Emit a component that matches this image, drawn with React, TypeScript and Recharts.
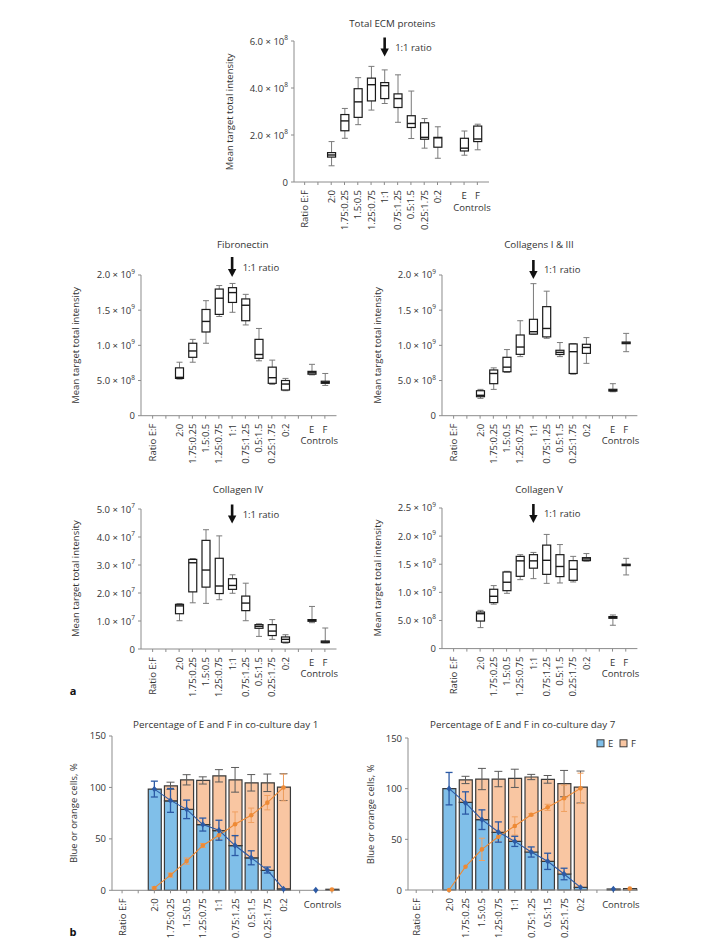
import React from "react";
import { ComposedChart, Bar, Line, XAxis, YAxis, ErrorBar } from "recharts";

const FONT = "'Open Sans', 'Noto Sans', sans-serif";
const INK = "#333333";
const AXIS = "#8c8c8c";
const FS = 9.5;

// x categories shared by every panel
const categories = ["Ratio E:F", "", "2:0", "1.75:0.25", "1.5:0.5", "1.25:0.75", "1:1", "0.75:1.25", "0.5:1.5", "0.25:1.75", "0:2", "", "E", "F"];
const ratios = ["2:0", "1.75:0.25", "1.5:0.5", "1.25:0.75", "1:1", "0.75:1.25", "0.5:1.5", "0.25:1.75", "0:2"];
const boxGroups = [...ratios, "E", "F"];

// Total ECM proteins (x 10^8)
const ecmMin = [0.69, 1.86, 2.44, 3.06, 3.34, 2.54, 1.85, 1.44, 1.01, 1.14, 1.37];
const ecmQ1 = [1.06, 2.18, 2.75, 3.45, 3.55, 3.17, 2.32, 1.82, 1.48, 1.32, 1.72];
const ecmMed = [1.15, 2.6, 3.41, 4.14, 4.1, 3.55, 2.49, 1.9, 1.88, 1.44, 1.83];
const ecmQ3 = [1.25, 2.87, 3.97, 4.42, 4.23, 3.75, 2.82, 2.52, 1.9, 1.86, 2.38];
const ecmMax = [1.72, 3.13, 4.44, 4.92, 4.77, 4.56, 3.87, 2.7, 2.35, 2.17, 2.46];

// Fibronectin (x 10^9)
const fnMin = [0.52, 0.76, 1.03, 1.41, 1.47, 1.29, 0.78, 0.445, 0.355, 0.58, 0.43];
const fnQ1 = [0.53, 0.83, 1.19, 1.44, 1.61, 1.35, 0.815, 0.46, 0.365, 0.59, 0.46];
const fnMed = [0.545, 0.92, 1.34, 1.67, 1.75, 1.57, 0.87, 0.54, 0.45, 0.61, 0.475];
const fnQ3 = [0.68, 1.03, 1.51, 1.8, 1.82, 1.66, 1.085, 0.69, 0.5, 0.63, 0.49];
const fnMax = [0.76, 1.085, 1.635, 1.85, 1.88, 1.725, 1.24, 0.79, 0.53, 0.73, 0.6];

// Collagens I & III (x 10^9)
const c13Min = [0.246, 0.374, 0.616, 0.84, 1.156, 1.1, 0.84, 0.59, 0.744, 0.34, 0.91];
const c13Q1 = [0.27, 0.455, 0.625, 0.872, 1.16, 1.12, 0.87, 0.6, 0.886, 0.35, 1.024];
const c13Med = [0.29, 0.6, 0.69, 0.976, 1.194, 1.24, 0.9, 0.91, 0.97, 0.36, 1.035];
const c13Q3 = [0.355, 0.65, 0.83, 1.147, 1.37, 1.55, 0.93, 1.02, 1.015, 0.375, 1.047];
const c13Max = [0.374, 0.68, 0.94, 1.35, 1.877, 1.77, 1.04, 1.025, 1.11, 0.455, 1.17];

// Collagen IV (x 10^7)
const c4Min = [1.01, 1.65, 1.63, 1.76, 1.99, 1.01, 0.45, 0.345, 0.21, 0.94, 0.22];
const c4Q1 = [1.26, 2.04, 2.21, 1.98, 2.13, 1.37, 0.74, 0.48, 0.24, 0.99, 0.226];
const c4Med = [1.54, 3.08, 2.82, 2.25, 2.27, 1.64, 0.81, 0.64, 0.345, 1.02, 0.255];
const c4Q3 = [1.595, 3.2, 3.88, 3.24, 2.51, 1.89, 0.87, 0.87, 0.43, 1.05, 0.286];
const c4Max = [1.62, 3.23, 4.26, 4.04, 2.65, 2.35, 0.9, 1.05, 0.51, 1.52, 0.75];

// Collagen V (x 10^9)
const c5Min = [0.373, 0.79, 0.983, 1.226, 1.244, 1.16, 1.167, 1.185, 1.555, 0.415, 1.31];
const c5Q1 = [0.49, 0.818, 1.03, 1.285, 1.43, 1.32, 1.28, 1.214, 1.564, 0.539, 1.475];
const c5Med = [0.62, 0.93, 1.18, 1.56, 1.56, 1.57, 1.46, 1.41, 1.594, 0.555, 1.487];
const c5Q3 = [0.65, 1.055, 1.362, 1.64, 1.67, 1.84, 1.67, 1.564, 1.617, 0.569, 1.5];
const c5Max = [0.68, 1.12, 1.374, 1.67, 1.71, 2.03, 1.85, 1.64, 1.69, 0.598, 1.605];

// co-culture day 1 (%)
const d1EBar = [98.4, 87, 78.7, 63.9, 58, 43.5, 31.6, 19.4, 1.3];
const d1FBar = [0, 14.6, 28.7, 42.9, 53.3, 63.9, 72.9, 85.1, 99];
const d1TotErr = [null, 3.5, 5, 3.5, 6, 12, 8, 8.5, 13];
const d1ELine = [98.4, 87.4, 78.7, 63.9, 58.4, 43.5, 31.6, 19.7, 1.3];
const d1EErr = [7.7, 11.6, 9, 6.3, 9.7, 9.7, 6.8, 2.9, 0];
const d1FLine = [2.3, 14.8, 28.4, 43.5, 53.5, 64.2, 72.9, 85.2, 100];
const d1FErr = [1, 2, 3, 2, 4, 12, 7, 7, 13];
const d1CtrlPoint = [0.3, 0.8]; // E, F
const d1CtrlBar = [0, 1.0];

// co-culture day 7 (%)
const d7EBar = [100, 86.5, 69.4, 56.9, 48, 37.5, 28.3, 15.8, 2.6];
const d7FBar = [0, 22.1, 40.1, 52.6, 62.2, 74, 80.9, 89.2, 99];
const d7TotErr = [null, 3.6, 10.5, 7.6, 9, 2.6, 3.8, 13, 15.8];
const d7ELine = [100, 85.9, 69.4, 57.2, 48, 37.5, 28.3, 15.8, 2.6];
const d7EErr = [16, 11, 9.7, 10, 5, 5, 8, 5.7, 0];
const d7FLine = [0, 23, 40.1, 52.6, 63.2, 74.3, 81.6, 90.5, 100.3];
const d7FErr = [0, 0, 11, 5, 9, 1, 3, 13, 15];
const d7CtrlPoint = [1, 1.5];
const d7CtrlBar = [1, 1.5];

function boxRows(mn: number[], q1: number[], md: number[], q3: number[], mx: number[]) {
  return categories.map((cat, i) => {
    const k = i >= 2 ? boxGroups.indexOf(cat) : -1;
    if (k < 0) return { cat };
    return { cat, min: mn[k], q1: q1[k], med: md[k], q3: q3[k], max: mx[k] };
  });
}

function cultureRows(eBar: number[], fBar: number[], totErr: (number | null)[], eLine: number[], eErr: number[],
  fLine: number[], fErr: number[], ctrlPoint: number[], ctrlBar: number[]) {
  return categories.map((cat, i) => {
    const k = ratios.indexOf(cat);
    if (k >= 0) {
      return {
        cat, eBar: eBar[k], fBar: fBar[k],
        tot: totErr[k] == null ? undefined : eBar[k] + fBar[k], totErr: totErr[k] ?? undefined,
        eLine: eLine[k], eErr: eErr[k], fLine: fLine[k], fErr: fErr[k],
      };
    }
    if (i === 12) return { cat, eBar: ctrlBar[0], eLine: ctrlPoint[0] };
    if (i === 13) return { cat, fBar: ctrlBar[1], fLine: ctrlPoint[1] };
    return { cat };
  });
}

const boxPanels = [
  { key: "ecm", title: "Total ECM proteins", exp: 8, yMax: 6, ticks: [0, 2, 4, 6], rows: boxRows(ecmMin, ecmQ1, ecmMed, ecmQ3, ecmMax),
    axisX: 294.3, top: 41.3, bottom: 182.3, plotW: 195, padL: 4, padR: 5, titleX: 392.3, titleY: 23.3, arrowTop: 37.5, arrowTip: 56.5 },
  { key: "fn", title: "Fibronectin", exp: 9, yMax: 2, ticks: [0, 0.5, 1, 1.5, 2], rows: boxRows(fnMin, fnQ1, fnMed, fnQ3, fnMax),
    axisX: 141, top: 275, bottom: 415.7, plotW: 195.5, padL: 5, padR: 5, titleX: 242.7, titleY: 244, arrowTop: 257, arrowTip: 277 },
  { key: "c13", title: "Collagens I & III", exp: 9, yMax: 2, ticks: [0, 0.5, 1, 1.5, 2], rows: boxRows(c13Min, c13Q1, c13Med, c13Q3, c13Max),
    axisX: 442.3, top: 275, bottom: 415.7, plotW: 195.4, padL: 5, padR: 5, titleX: 539, titleY: 244, arrowTop: 260, arrowTip: 279 },
  { key: "c4", title: "Collagen IV", exp: 7, yMax: 5, ticks: [0, 1, 2, 3, 4, 5], rows: boxRows(c4Min, c4Q1, c4Med, c4Q3, c4Max),
    axisX: 141, top: 508.7, bottom: 648.7, plotW: 195.5, padL: 5, padR: 5, titleX: 238, titleY: 489, arrowTop: 504.5, arrowTip: 523.5 },
  { key: "c5", title: "Collagen V", exp: 9, yMax: 2.5, ticks: [0, 0.5, 1, 1.5, 2, 2.5], rows: boxRows(c5Min, c5Q1, c5Med, c5Q3, c5Max),
    axisX: 442.3, top: 507.7, bottom: 648.3, plotW: 195.4, padL: 5, padR: 5, titleX: 539, titleY: 489, arrowTop: 504, arrowTip: 523 },
];

const culturePanels = [
  { key: "d1", title: "Percentage of E and F in co-culture day 1",
    rows: cultureRows(d1EBar, d1FBar, d1TotErr, d1ELine, d1EErr, d1FLine, d1FErr, d1CtrlPoint, d1CtrlBar),
    axisX: 111.7, top: 736, bottom: 890.3, plotW: 228, padL: 2, padR: 0, titleX: 225.7, titleY: 724, legend: false },
  { key: "d7", title: "Percentage of E and F in co-culture day 7",
    rows: cultureRows(d7EBar, d7FBar, d7TotErr, d7ELine, d7EErr, d7FLine, d7FErr, d7CtrlPoint, d7CtrlBar),
    axisX: 408.3, top: 738.3, bottom: 890.3, plotW: 230, padL: 0, padR: 0, titleX: 522.7, titleY: 724, legend: true },
];

const YW = 80, MT = 8, XH = 60, MR = 4;

function SciTick(props: any) {
  const { x, y, payload, exp } = props;
  const v = payload.value as number;
  const common = { fontFamily: FONT, fontSize: FS, fill: INK };
  if (v === 0) {
    return <text x={x} y={y} textAnchor="end" dominantBaseline="central" {...common}>0</text>;
  }
  const small = v < 1;
  const mant = small ? v * 10 : v;
  const e = small ? exp - 1 : exp;
  return (
    <text x={x} y={y} textAnchor="end" dominantBaseline="central" {...common}>
      {`${mant.toFixed(1)} \u00d7 10`}
      <tspan fontSize={6.5} dy={-4}>{e}</tspan>
    </text>
  );
}

function PlainTick(props: any) {
  const { x, y, payload } = props;
  return (
    <text x={x} y={y} textAnchor="end" dominantBaseline="central" fontFamily={FONT} fontSize={FS} fill={INK}>
      {payload.value}
    </text>
  );
}

function CatTick(props: any) {
  const { x, y, payload, showEF } = props;
  const label = payload.value as string;
  if (!label) return <g />;
  if (label === "E" || label === "F") {
    if (!showEF) return <g />;
    return (
      <text x={x} y={y + 8.5} textAnchor="middle" dominantBaseline="central" fontFamily={FONT} fontSize={FS} fill={INK}>
        {label}
      </text>
    );
  }
  const ty = y + 3;
  return (
    <text x={x} y={ty} transform={`rotate(-90 ${x} ${ty})`} textAnchor="end" dominantBaseline="central"
      fontFamily={FONT} fontSize={FS} fill={INK}>
      {label}
    </text>
  );
}

function BoxShape(props: any) {
  const { x, y, width, height, payload } = props;
  if (!payload || payload.min == null || height == null || isNaN(y)) return <g />;
  const top = Math.min(y, y + height);
  const bot = Math.max(y, y + height);
  const ppu = (bot - top) / (payload.max - payload.min);
  const py = (v: number) => bot - (v - payload.min) * ppu;
  const cx = x + width / 2;
  const half = width / 2;
  const capHalf = 3;
  const yQ1 = py(payload.q1), yQ3 = py(payload.q3), yMed = py(payload.med);
  return (
    <g>
      <line x1={cx} x2={cx} y1={top} y2={yQ3} stroke="#7a7a7a" strokeWidth={1} />
      <line x1={cx} x2={cx} y1={yQ1} y2={bot} stroke="#7a7a7a" strokeWidth={1} />
      <line x1={cx - capHalf} x2={cx + capHalf} y1={top} y2={top} stroke="#7a7a7a" strokeWidth={1} />
      <line x1={cx - capHalf} x2={cx + capHalf} y1={bot} y2={bot} stroke="#7a7a7a" strokeWidth={1} />
      <rect x={cx - half} y={yQ3} width={width} height={Math.max(yQ1 - yQ3, 0.5)} fill="#ffffff" stroke="#1a1a1a" strokeWidth={1.2} />
      <line x1={cx - half} x2={cx + half} y1={yMed} y2={yMed} stroke="#1a1a1a" strokeWidth={1.4} />
    </g>
  );
}

function BoxPanel({ p }: { p: any }) {
  const h = p.bottom - p.top;
  return (
    <div style={{ position: "absolute", left: p.axisX - YW, top: p.top - MT }}>
      <ComposedChart width={YW + p.plotW + MR} height={MT + h + XH} data={p.rows} margin={{ top: MT, right: MR, bottom: 0, left: 0 }}>
        <XAxis dataKey="cat" interval={0} height={XH} tickSize={3} tickMargin={2}
          axisLine={{ stroke: AXIS }} tickLine={{ stroke: AXIS }} padding={{ left: p.padL, right: p.padR }}
          tick={(t: any) => <CatTick {...t} showEF />} />
        <YAxis type="number" domain={[0, p.yMax]} ticks={p.ticks} interval={0} width={YW} tickSize={3} tickMargin={3}
          axisLine={{ stroke: AXIS }} tickLine={{ stroke: AXIS }} tick={(t: any) => <SciTick {...t} exp={p.exp} />} />
        <Bar dataKey={(d: any) => (d.min == null ? null : [d.min, d.max])} barSize={8} shape={<BoxShape />} isAnimationActive={false} />
      </ComposedChart>
    </div>
  );
}

function Diamond(props: any) {
  const { cx, cy, index } = props;
  if (cx == null || cy == null) return <g key={`d-${index}`} />;
  return <path key={`d-${index}`} d={`M${cx},${cy - 3.2}L${cx + 2.7},${cy}L${cx},${cy + 3.2}L${cx - 2.7},${cy}Z`} fill="#2c5aa5" />;
}

function Circle(props: any) {
  const { cx, cy, index } = props;
  if (cx == null || cy == null) return <g key={`c-${index}`} />;
  return <circle key={`c-${index}`} cx={cx} cy={cy} r={2.3} fill="#ee8a35" />;
}

function CulturePanel({ p }: { p: any }) {
  const h = p.bottom - p.top;
  return (
    <div style={{ position: "absolute", left: p.axisX - YW, top: p.top - MT }}>
      <ComposedChart width={YW + p.plotW + MR} height={MT + h + XH} data={p.rows} margin={{ top: MT, right: MR, bottom: 0, left: 0 }}>
        <XAxis dataKey="cat" interval={0} height={XH} tickSize={3} tickMargin={2}
          axisLine={{ stroke: AXIS }} tickLine={{ stroke: AXIS }} padding={{ left: p.padL, right: p.padR }}
          tick={(t: any) => <CatTick {...t} showEF={false} />} />
        <YAxis type="number" domain={[0, 150]} ticks={[0, 50, 100, 150]} interval={0} width={YW} tickSize={3} tickMargin={3}
          axisLine={{ stroke: AXIS }} tickLine={{ stroke: AXIS }} tick={(t: any) => <PlainTick {...t} />} />
        <Bar dataKey="eBar" stackId="s" barSize={13} fill="#80bfe9" stroke="#3a3a3a" strokeWidth={1.2} isAnimationActive={false} />
        <Bar dataKey="fBar" stackId="s" barSize={13} fill="#f9c6a2" stroke="#3a3a3a" strokeWidth={1.2} isAnimationActive={false} />
        <Line dataKey="tot" stroke="none" dot={false} activeDot={false} isAnimationActive={false}>
          <ErrorBar dataKey="totErr" width={4} stroke="#5a5a5a" strokeWidth={1} />
        </Line>
        <Line dataKey="fLine" stroke="#ee8a35" strokeWidth={1.1} dot={<Circle />} activeDot={false} isAnimationActive={false}>
          <ErrorBar dataKey="fErr" width={3} stroke="#f0a060" strokeWidth={1} />
        </Line>
        <Line dataKey="eLine" stroke="#2c5aa5" strokeWidth={1.1} dot={<Diamond />} activeDot={false} isAnimationActive={false}>
          <ErrorBar dataKey="eErr" width={3.5} stroke="#2c5aa5" strokeWidth={1.3} />
        </Line>
      </ComposedChart>
    </div>
  );
}

function Arrow({ x, top, tip }: { x: number; top: number; tip: number }) {
  return (
    <g>
      <line x1={x} x2={x} y1={top} y2={tip - 6} stroke="#111" strokeWidth={2.6} />
      <polygon points={`${x - 4.2},${tip - 8} ${x + 4.2},${tip - 8} ${x},${tip}`} fill="#111" />
    </g>
  );
}

function Overlay() {
  const txt = { fontFamily: FONT, fontSize: FS, fill: INK };
  return (
    <svg width={709} height={951} style={{ position: "absolute", left: 0, top: 0, pointerEvents: "none" }}>
      {boxPanels.map((p) => {
        const band = (p.plotW - p.padL - p.padR) / categories.length;
        const oneX = p.axisX + p.padL + 6.5 * band;
        const ctrlX = p.axisX + p.padL + 13 * band;
        const midY = (p.top + p.bottom) / 2;
        const yl = p.axisX - 65;
        return (
          <g key={p.key}>
            <text x={p.titleX} y={p.titleY} textAnchor="middle" dominantBaseline="central" {...txt} fontSize={9.8}>{p.title}</text>
            <Arrow x={oneX} top={p.arrowTop} tip={p.arrowTip} />
            <text x={oneX + 10.5} y={(p.arrowTop + p.arrowTip) / 2} dominantBaseline="central" {...txt}>1:1 ratio</text>
            <text x={yl} y={midY} transform={`rotate(-90 ${yl} ${midY})`} textAnchor="middle" dominantBaseline="central" {...txt}>
              Mean target total intensity
            </text>
            <text x={ctrlX + 1} y={p.bottom + 25} textAnchor="middle" dominantBaseline="central" {...txt}>Controls</text>
          </g>
        );
      })}
      {culturePanels.map((p) => {
        const band = (p.plotW - p.padL - p.padR) / categories.length;
        const ctrlX = p.axisX + p.padL + 13 * band;
        const midY = (p.top + p.bottom) / 2;
        const yl = p.axisX - 38;
        return (
          <g key={p.key}>
            <text x={p.titleX} y={p.titleY} textAnchor="middle" dominantBaseline="central" {...txt} fontSize={9.8}>{p.title}</text>
            <text x={yl} y={midY} transform={`rotate(-90 ${yl} ${midY})`} textAnchor="middle" dominantBaseline="central" {...txt}>
              Blue or orange cells, %
            </text>
            <text x={ctrlX - 1} y={p.bottom + 14} textAnchor="middle" dominantBaseline="central" {...txt}>Controls</text>
            {p.legend && (
              <g>
                <rect x={597} y={739.8} width={7} height={7} fill="#80bfe9" stroke="#3a3a3a" strokeWidth={1} />
                <text x={608} y={743.3} dominantBaseline="central" {...txt}>E</text>
                <rect x={620} y={739.8} width={7} height={7} fill="#f9c6a2" stroke="#3a3a3a" strokeWidth={1} />
                <text x={631} y={743.3} dominantBaseline="central" {...txt}>F</text>
              </g>
            )}
          </g>
        );
      })}
      <text x={73} y={690} textAnchor="middle" dominantBaseline="central" fontFamily={FONT} fontSize={11} fontWeight="bold" fill="#111">a</text>
      <text x={73} y={931} textAnchor="middle" dominantBaseline="central" fontFamily={FONT} fontSize={11} fontWeight="bold" fill="#111">b</text>
    </svg>
  );
}

export default function App() {
  return (
    <div style={{ position: "absolute", left: 0, top: 0, width: 709, height: 951, background: "#ffffff", overflow: "hidden" }}>
      {boxPanels.map((p) => <BoxPanel key={p.key} p={p} />)}
      {culturePanels.map((p) => <CulturePanel key={p.key} p={p} />)}
      <Overlay />
    </div>
  );
}
